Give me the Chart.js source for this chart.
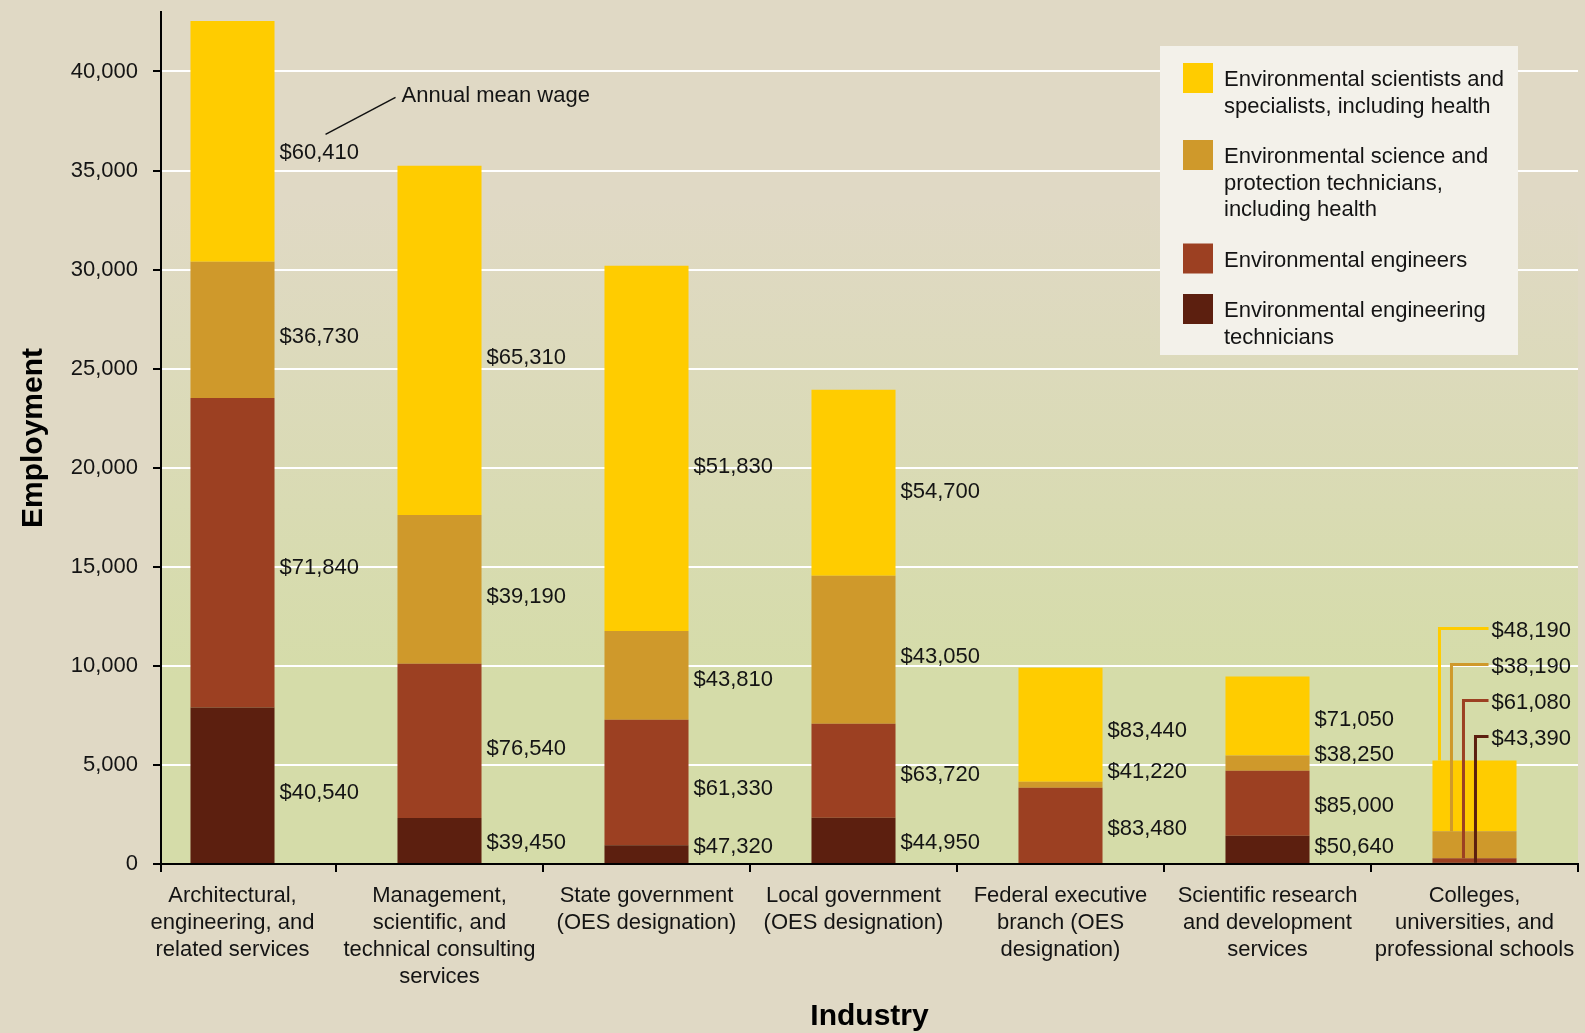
<!DOCTYPE html>
<html>
<head>
<meta charset="utf-8">
<title>Environmental occupations by industry</title>
<script src="https://cdn.jsdelivr.net/npm/chart.js@4.4.0/dist/chart.umd.min.js"></script>
<style>
    html, body { margin: 0; padding: 0; background: #E0D9C5; }
    #wrap { width: 1585px; height: 1033px; position: relative; }
</style>
</head>
<body>
<div id="wrap"><canvas id="chartIndustry"></canvas></div>
<script>
// industries (x axis), one label line per array entry
const industries = [
    ['Architectural,', 'engineering, and', 'related services'],
    ['Management,', 'scientific, and', 'technical consulting', 'services'],
    ['State government', '(OES designation)'],
    ['Local government', '(OES designation)'],
    ['Federal executive', 'branch (OES', 'designation)'],
    ['Scientific research', 'and development', 'services'],
    ['Colleges,', 'universities, and', 'professional schools']
];

// employment per occupation
const scientists       = [12160, 17620, 18430, 9390, 5750, 3990, 3570];
const protectionTechs  = [6870, 7510, 4480, 7470, 300, 760, 1360];
const engineers        = [15620, 7790, 6330, 4740, 3850, 3280, 230];
const engineeringTechs = [7900, 2320, 950, 2340, 0, 1430, 60];

// annual mean wage per occupation
const wageScientists       = [60410, 65310, 51830, 54700, 83440, 71050, 48190];
const wageProtectionTechs  = [36730, 39190, 43810, 43050, 41220, 38250, 38190];
const wageEngineers        = [71840, 76540, 61330, 63720, 83480, 85000, 61080];
const wageEngineeringTechs = [40540, 39450, 47320, 44950, null, 50640, 43390];

// legend names (line breaks as in the picture)
const nameScientists       = ['Environmental scientists and', 'specialists, including health'];
const nameProtectionTechs  = ['Environmental science and', 'protection technicians,', 'including health'];
const nameEngineers        = ['Environmental engineers'];
const nameEngineeringTechs = ['Environmental engineering', 'technicians'];

// y axis ticks
const yTicks = [0, 5000, 10000, 15000, 20000, 25000, 30000, 35000, 40000];
const yMax = 43000;

const FONT = '"Liberation Sans", Arial, Helvetica, sans-serif';
const TEXT = '#141414';

Chart.defaults.font.family = FONT;
Chart.defaults.font.size = 22;
Chart.defaults.color = TEXT;

function money(v) {
    return '$' + v.toLocaleString('en-US');
}

// stacked from the bottom up
let datasets = [
    {label: nameEngineeringTechs.join(' '), names: nameEngineeringTechs, data: engineeringTechs, wages: wageEngineeringTechs, backgroundColor: '#5C1F0F'},
    {label: nameEngineers.join(' '), names: nameEngineers, data: engineers, wages: wageEngineers, backgroundColor: '#9C4022'},
    {label: nameProtectionTechs.join(' '), names: nameProtectionTechs, data: protectionTechs, wages: wageProtectionTechs, backgroundColor: '#CF992B'},
    {label: nameScientists.join(' '), names: nameScientists, data: scientists, wages: wageScientists, backgroundColor: '#FFCC00'}
];
datasets.forEach(ds => {
    ds.data = ds.data.map((v, i) => ({x: i, y: v}));
    ds.borderWidth = 0;
    ds.barPercentage = 0.406;
    ds.categoryPercentage = 1;
});

// beige page, plot area fading to green
const background = {
    id: 'background',
    beforeDraw(chart) {
        let ctx = chart.ctx;
        let a = chart.chartArea;
        ctx.save();
        ctx.fillStyle = '#E0D9C5';
        ctx.fillRect(0, 0, chart.width, chart.height);
        let grad = ctx.createLinearGradient(0, a.top, 0, a.bottom);
        grad.addColorStop(0, '#E0D9C5');
        grad.addColorStop(0.22, '#E0D9C5');
        grad.addColorStop(0.78, '#D5DCA9');
        grad.addColorStop(1, '#D5DCA9');
        ctx.fillStyle = grad;
        ctx.fillRect(a.left, a.top, a.right - a.left, a.bottom - a.top);
        ctx.restore();
    }
};

// wage labels next to the segments, callouts for the last bar
const wageLabels = {
    id: 'wageLabels',
    afterDatasetsDraw(chart) {
        let ctx = chart.ctx;
        let last = industries.length - 1;
        let nSets = chart.data.datasets.length;
        ctx.save();
        ctx.font = '22px ' + FONT;
        ctx.fillStyle = TEXT;
        ctx.textBaseline = 'middle';
        ctx.textAlign = 'left';

        // label sits a little below the middle of its segment
        let labelY = bar => Math.min(bar.y + (bar.base - bar.y) * 0.55, bar.base - 16);

        chart.data.datasets.forEach((ds, d) => {
            let meta = chart.getDatasetMeta(d);
            meta.data.forEach((bar, i) => {
                let wage = ds.wages[i];
                if (wage === null || i === last) return;
                ctx.fillText(money(wage), bar.x + bar.width / 2 + 5, labelY(bar));
            });
        });

        // callouts for the small last bar
        let top = chart.getDatasetMeta(nSets - 1).data[last].y;
        chart.data.datasets.forEach((ds, d) => {
            let bar = chart.getDatasetMeta(d).data[last];
            let k = nSets - 1 - d;
            let lx = bar.x - bar.width / 2 + 7 + 12 * k;
            let ly = top - 24 - 36 * d;
            let tx = bar.x + bar.width / 2 - 25;
            ctx.strokeStyle = ds.backgroundColor;
            ctx.lineWidth = 3;
            ctx.beginPath();
            ctx.moveTo(lx, bar.y);
            ctx.lineTo(lx, ly);
            ctx.lineTo(tx - 3, ly);
            ctx.stroke();
            ctx.fillText(money(ds.wages[last]), tx, ly + 2);
        });

        // "Annual mean wage" pointer on the first label
        let first = chart.getDatasetMeta(nSets - 1).data[0];
        let lx = first.x + first.width / 2 + 5;
        let ly = labelY(first);
        ctx.strokeStyle = '#111';
        ctx.lineWidth = 1.5;
        ctx.beginPath();
        ctx.moveTo(lx + 46, ly - 19);
        ctx.lineTo(lx + 116, ly - 56);
        ctx.stroke();
        ctx.fillText('Annual mean wage', lx + 122, ly - 57);

        // y axis runs a tick length below the x axis
        let a = chart.chartArea;
        ctx.strokeStyle = '#000';
        ctx.lineWidth = 2;
        ctx.beginPath();
        ctx.moveTo(a.left, a.bottom);
        ctx.lineTo(a.left, a.bottom + 8);
        ctx.stroke();
        ctx.restore();
    }
};

// legend box in the top right corner of the plot
const legendBox = {
    id: 'legendBox',
    afterDatasetsDraw(chart) {
        let ctx = chart.ctx;
        let a = chart.chartArea;
        let boxRight = a.right - 60;
        let boxLeft = boxRight - 358;
        let boxTop = a.top + 34;
        let lineH = 26.5;
        ctx.save();
        ctx.fillStyle = '#F3F1EA';
        ctx.fillRect(boxLeft, boxTop, boxRight - boxLeft, 309);
        ctx.font = '22px ' + FONT;
        ctx.textBaseline = 'middle';
        ctx.textAlign = 'left';
        let y = boxTop + 33;
        let items = chart.data.datasets.slice().reverse();
        items.forEach(ds => {
            ctx.fillStyle = ds.backgroundColor;
            ctx.fillRect(boxLeft + 23, y - 16, 30, 30);
            ctx.fillStyle = TEXT;
            ds.names.forEach((line, j) => {
                ctx.fillText(line, boxLeft + 64, y + 1 + j * lineH);
            });
            y += ds.names.length * lineH + 24;
        });
        ctx.restore();
    }
};

let config = {
    type: 'bar',
    data: {datasets: datasets},
    options: {
        responsive: true,
        maintainAspectRatio: false,
        animation: false,
        layout: {padding: {top: 12, right: 7, bottom: 0, left: 0}},
        plugins: {
            legend: {display: false},
            tooltip: {enabled: false}
        },
        scales: {
            x: {
                type: 'linear',
                stacked: true,
                offset: false,
                bounds: 'data',
                min: -0.3454,
                max: industries.length - 0.5,
                afterFit: scale => {
                    scale.height = 169;
                    scale.paddingLeft = 0;
                    scale.paddingRight = 0;
                },
                afterBuildTicks: scale => {
                    scale.ticks = industries.map((c, i) => ({value: i}));
                },
                ticks: {
                    autoSkip: false,
                    maxRotation: 0,
                    minRotation: 0,
                    padding: 10,
                    color: TEXT,
                    font: {size: 22, lineHeight: 1.23},
                    callback: value => industries[value]
                },
                grid: {
                    offset: true,
                    drawOnChartArea: false,
                    drawTicks: true,
                    tickLength: 8,
                    tickColor: '#000',
                    lineWidth: 2
                },
                border: {display: true, color: '#000', width: 2},
                title: {
                    display: true,
                    text: 'Industry',
                    color: '#000',
                    font: {size: 30, weight: 'bold', lineHeight: 1.1},
                    padding: {top: 0, bottom: 0}
                }
            },
            y: {
                stacked: true,
                min: 0,
                max: yMax,
                afterFit: scale => {
                    scale.width = 161;
                    scale.paddingTop = 0;
                    scale.paddingBottom = 0;
                },
                afterBuildTicks: scale => {
                    scale.ticks = yTicks.map(v => ({value: v}));
                },
                ticks: {
                    padding: 15,
                    color: TEXT,
                    font: {size: 22},
                    callback: v => v.toLocaleString('en-US')
                },
                grid: {
                    color: c => (c.tick && c.tick.value === 0) ? 'rgba(0,0,0,0)' : '#FFFFFF',
                    lineWidth: 2,
                    tickLength: 8,
                    tickColor: '#000'
                },
                border: {display: true, color: '#000', width: 2},
                title: {
                    display: true,
                    text: 'Employment',
                    color: '#000',
                    font: {size: 30, weight: 'bold', lineHeight: 1.2},
                    padding: {top: 16, bottom: 0}
                }
            }
        }
    },
    plugins: [background, wageLabels, legendBox]
};

let chart = new Chart(document.getElementById('chartIndustry'), config);
</script>
</body>
</html>
